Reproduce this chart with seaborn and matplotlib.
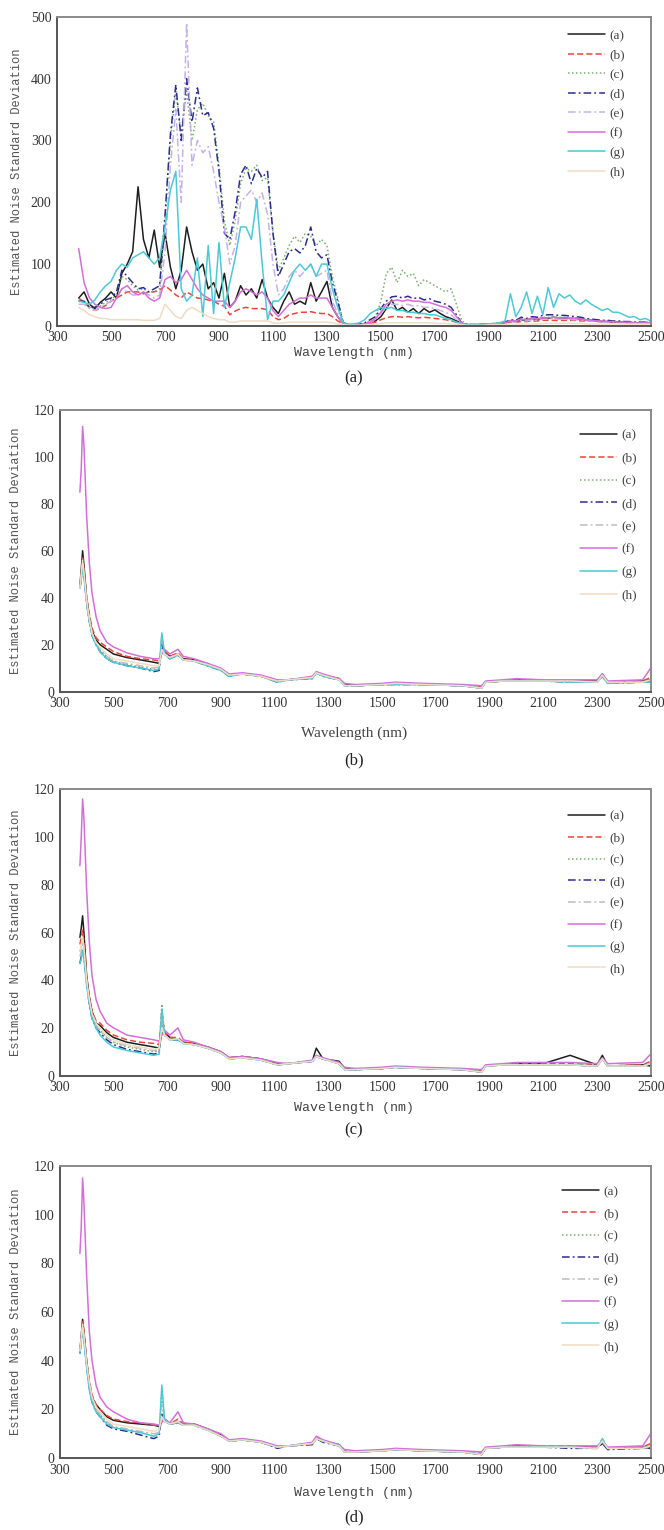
import numpy as np
import pandas as pd
import matplotlib
matplotlib.use("Agg")
import matplotlib.pyplot as plt
import seaborn as sns

# ---------------- DATA ----------------
LABELS = ["(a)", "(b)", "(c)", "(d)", "(e)", "(f)", "(g)", "(h)"]
X_TICKS = [300, 500, 700, 900, 1100, 1300, 1500, 1700, 1900, 2100, 2300, 2500]

# Panel (a): wavelength grid 380..2500 every 20 nm
WL_A = list(range(380, 2501, 20))
A_a = [45, 55, 35, 28, 38, 45, 55, 45, 85, 100,
       120, 225, 140, 110, 155, 95, 150, 95, 60, 90,
       160, 120, 90, 100, 60, 70, 45, 85, 30, 40,
       65, 50, 60, 45, 75, 45, 30, 20, 40, 55,
       35, 40, 35, 70, 40, 55, 72, 30, 15, 4,
       2, 2, 2, 3, 5, 8, 15, 28, 42, 25,
       30, 22, 28, 20, 28, 22, 26, 20, 15, 12,
       8, 4, 2, 2, 2, 3, 3, 3, 4, 5,
       8, 7, 10, 9, 12, 10, 13, 12, 14, 12,
       13, 12, 12, 11, 10, 9, 8, 7, 7, 6,
       6, 6, 5, 5, 5, 5, 5]
A_b = [45, 38, 30, 25, 28, 33, 40, 45, 50, 55,
       55, 55, 52, 55, 55, 58, 65, 58, 50, 45,
       55, 50, 45, 44, 42, 40, 35, 32, 18, 24,
       28, 30, 28, 28, 28, 26, 15, 10, 12, 18,
       20, 22, 22, 23, 21, 20, 20, 15, 8, 3,
       2, 2, 2, 3, 4, 6, 10, 13, 15, 15,
       14, 15, 14, 13, 14, 13, 12, 11, 10, 8,
       6, 3, 2, 2, 2, 2, 3, 3, 4, 5,
       6, 6, 7, 7, 8, 8, 9, 9, 9, 9,
       9, 9, 9, 8, 8, 8, 7, 7, 6, 6,
       6, 6, 5, 5, 5, 5, 5]
A_c = [40, 38, 30, 28, 32, 38, 42, 50, 80, 75,
       65, 58, 60, 55, 55, 60, 170, 300, 380, 310,
       380, 300, 350, 360, 340, 330, 260, 170, 130, 170,
       230, 255, 250, 260, 235, 240, 150, 90, 110, 130,
       145, 135, 150, 145, 130, 140, 130, 80, 45, 6,
       2, 2, 3, 4, 8, 15, 40, 85, 95, 70,
       90, 80, 85, 65, 75, 70, 65, 60, 55, 60,
       35, 8, 3, 2, 2, 3, 3, 3, 4, 5,
       9, 8, 12, 11, 13, 12, 14, 14, 15, 14,
       14, 13, 13, 12, 11, 10, 9, 8, 8, 7,
       7, 7, 6, 6, 6, 6, 6]
A_d = [40, 40, 30, 30, 35, 42, 45, 55, 90, 80,
       70, 60, 62, 55, 60, 65, 180, 310, 390, 300,
       400, 330, 385, 340, 345, 320, 250, 150, 140, 185,
       245, 260, 230, 255, 240, 250, 150, 80, 100, 120,
       125, 118, 130, 160, 120, 110, 115, 70, 40, 5,
       2, 2, 3, 5, 10, 15, 28, 40, 47, 48,
       45, 48, 44, 46, 42, 44, 40, 38, 35, 30,
       18, 4, 2, 2, 2, 3, 3, 4, 4, 6,
       10, 9, 14, 12, 15, 14, 17, 18, 18, 17,
       17, 16, 15, 14, 12, 11, 10, 9, 9, 8,
       8, 7, 7, 6, 6, 6, 6]
A_e = [35, 35, 28, 25, 30, 35, 40, 45, 60, 55,
       50, 50, 55, 50, 45, 50, 120, 260, 350, 200,
       490, 260, 300, 280, 290, 250, 200, 160, 100, 130,
       200, 210, 220, 200, 215, 180, 100, 50, 60, 80,
       90, 80, 90, 100, 80, 85, 90, 40, 20, 4,
       2, 2, 2, 3, 5, 10, 20, 30, 35, 35,
       33, 35, 32, 33, 30, 30, 28, 25, 22, 18,
       10, 3, 2, 2, 2, 2, 3, 3, 3, 4,
       7, 6, 9, 8, 10, 9, 11, 11, 12, 11,
       11, 10, 10, 9, 8, 8, 7, 6, 6, 5,
       5, 5, 5, 4, 4, 4, 4]
A_f = [125, 70, 45, 35, 30, 28, 30, 45, 60, 65,
       55, 50, 55, 45, 40, 45, 75, 80, 70, 75,
       90, 75, 60, 50, 45, 40, 40, 40, 30, 40,
       55, 60, 55, 50, 55, 45, 25, 15, 25, 35,
       40, 45, 45, 50, 45, 45, 45, 30, 15, 3,
       2, 2, 2, 3, 6, 12, 22, 35, 40, 42,
       40, 42, 40, 40, 38, 38, 35, 32, 30, 25,
       15, 4, 2, 2, 2, 3, 3, 3, 4, 5,
       8, 8, 11, 10, 12, 11, 13, 13, 14, 13,
       13, 12, 12, 11, 10, 9, 8, 8, 7, 7,
       6, 6, 6, 5, 5, 5, 5]
A_g = [40, 38, 35, 42, 55, 65, 72, 90, 100, 95,
       110, 115, 120, 110, 100, 110, 160, 220, 250, 60,
       40, 50, 110, 15, 130, 20, 135, 30, 70, 110,
       160, 160, 140, 205, 100, 10, 40, 40, 50, 70,
       90, 100, 90, 100, 80, 100, 100, 60, 30, 5,
       2, 3, 5, 10, 20, 25, 30, 28, 30, 25,
       25, 22, 22, 20, 20, 18, 18, 15, 12, 10,
       6, 3, 2, 2, 2, 3, 3, 4, 5, 8,
       52, 15, 30, 55, 20, 48, 18, 62, 30, 52,
       45, 50, 40, 35, 42, 35, 30, 25, 28, 22,
       22, 18, 14, 15, 10, 12, 8]
A_h = [30, 25, 18, 15, 12, 12, 10, 10, 10, 10,
       10, 10, 9, 9, 9, 12, 35, 25, 15, 12,
       25, 30, 25, 20, 15, 12, 10, 10, 6, 6,
       8, 8, 8, 8, 8, 8, 5, 4, 5, 6,
       6, 6, 6, 6, 6, 6, 6, 5, 3, 2,
       1, 1, 1, 2, 2, 3, 4, 5, 5, 5,
       5, 5, 5, 5, 5, 5, 4, 4, 4, 3,
       3, 2, 1, 1, 1, 1, 2, 2, 2, 2,
       3, 3, 3, 3, 3, 3, 4, 4, 4, 4,
       4, 4, 4, 4, 3, 3, 3, 3, 3, 3,
       3, 3, 3, 3, 3, 3, 3]

# Panels (b)-(d): shared wavelength grid
WL_B = [375, 380, 385, 390, 400, 410, 420, 435, 450, 475,
        500, 550, 600, 650, 670, 680, 690, 710, 740, 760,
        800, 850, 900, 930, 980, 1050, 1110, 1150, 1240, 1255,
        1280, 1340, 1360, 1400, 1500, 1550, 1650, 1800, 1870, 1885,
        1950, 2000, 2100, 2200, 2300, 2320, 2340, 2470, 2500]

B_a = [45, 52, 60, 54, 40, 32, 26, 22, 20, 18, 16, 14.5, 13.5, 12.5, 12, 17, 17, 15, 16, 14,
       13.5, 11.5, 9.5, 7, 7.5, 6.5, 4.5, 5, 6, 8, 7, 5.5, 3, 2.5, 3, 3.5, 3, 2.5, 1.5, 4,
       4.5, 5, 4.5, 4.5, 4.5, 7.5, 4, 4.5, 5]
B_b = [44, 50, 57, 52, 40, 33, 27, 23, 21, 19, 17, 15, 14, 13.5, 13, 17, 17, 15, 16.5, 14,
       13.5, 12, 9.5, 7, 7.5, 6.5, 4.5, 5, 6, 8, 7, 5.5, 3, 2.5, 3, 3.5, 3, 2.5, 2, 4,
       4.5, 5, 4.5, 4.5, 4.5, 7, 4, 4.5, 6]
B_c = [44, 49, 55, 50, 38, 30, 25, 20, 18, 15, 13, 11.5, 10.5, 9.5, 10, 22, 16, 14, 16, 13.5,
       13, 11.5, 9.5, 7, 7.5, 6.5, 4.5, 5, 6, 8, 7, 5, 2.5, 2.5, 3, 3, 3, 2.5, 1.5, 4,
       4.5, 4.5, 4.5, 4.5, 4, 7, 4, 4, 5]
B_d = [44, 48, 54, 50, 38, 30, 24, 20, 17, 14, 12.5, 11, 10, 8.5, 9, 20, 16, 14, 15.5, 13.5,
       13, 11, 9, 6.5, 7.5, 6.5, 4, 5, 5.5, 8, 6.5, 5, 2.5, 2.5, 3, 3, 3, 2.5, 1.5, 4,
       4.5, 4.5, 4.5, 4, 4, 6.5, 3.5, 4, 4]
B_e = [44, 49, 55, 50, 39, 31, 25, 21, 18, 15, 13, 12, 11, 10, 10.5, 24, 16, 14.5, 16, 13.5,
       13, 11.5, 9.5, 7, 7.5, 6.5, 4.5, 5, 6, 8, 7, 5, 2.5, 2.5, 3, 3, 3, 2.5, 1.5, 4,
       4.5, 4.5, 4.5, 4.5, 4, 7, 4, 4, 5]
B_f = [85, 95, 113, 105, 75, 55, 42, 32, 26, 21, 19, 16.5, 15, 14, 14, 16, 18, 16, 18, 15,
       14, 12, 10, 7.5, 8, 7, 5, 5, 6.5, 8.5, 7.5, 5.5, 3.5, 3, 3.5, 4, 3.5, 3, 2.5, 4.5,
       5, 5.5, 5, 5, 5, 7.5, 4.5, 5, 10]
B_g = [44, 48, 53, 49, 38, 30, 24, 20, 17, 14, 12.5, 11, 10, 9, 9.5, 25, 16, 14, 15.5, 13.5,
       13, 11, 9, 6.5, 7.5, 6.5, 4, 5, 5.5, 8, 6.5, 5, 2.5, 2.5, 3, 3, 3, 2.5, 1.5, 4,
       4.5, 4.5, 4.5, 4, 4, 6.5, 3.5, 4, 4]
B_h = [44, 50, 56, 51, 39, 31, 25, 21, 19, 16, 14, 13, 12, 11, 11, 18, 16, 14.5, 16, 13.5,
       13, 11.5, 9.5, 7, 7.5, 6.5, 4.5, 5, 6, 8, 7, 5, 2.5, 2.5, 3, 3.5, 3, 2.5, 1.5, 4,
       4.5, 4.5, 4.5, 4.5, 4, 7, 4, 4, 5]

C_a = [58, 62, 67, 60, 42, 33, 27, 22, 21, 18, 16, 14, 13, 12, 11.5, 18, 18, 16, 15, 14,
       13.5, 12, 10, 7.5, 8, 7, 5, 5, 6, 11.5, 7, 6, 3, 2.5, 3, 3.5, 3, 2.5, 1.5, 4,
       4.5, 5, 5, 8.5, 4.5, 8.5, 4, 4.5, 4]
C_b = [55, 58, 61, 56, 41, 33, 27, 23, 22, 19, 17, 15, 14, 13.5, 13, 27, 18, 16, 16, 14,
       13.5, 12, 10, 7.5, 8, 7, 5, 5, 6, 8, 7, 5.5, 3, 2.5, 3, 3.5, 3, 2.5, 2, 4,
       4.5, 5, 5, 5, 4.5, 7, 4, 4.5, 6]
C_c = [52, 54, 57, 53, 40, 31, 25, 21, 19, 16, 14, 12, 11, 10, 10.5, 30, 17, 15, 15.5, 13.5,
       13, 11.5, 9.5, 7, 7.5, 6.5, 4.5, 5, 6, 8, 7, 5, 2.5, 2.5, 3, 3.5, 3, 2.5, 1.5, 4,
       4.5, 4.5, 4.5, 4.5, 4, 7, 4, 4, 5]
C_d = [47, 50, 53, 50, 39, 30, 24, 20, 18, 15, 13, 11, 10, 9, 9.5, 22, 17, 15, 15, 13.5,
       13, 11.5, 9.5, 7, 7.5, 6.5, 4.5, 5, 6, 8, 7, 5, 2.5, 2.5, 3, 3.5, 3, 2.5, 1.5, 4,
       4.5, 4.5, 4.5, 4.5, 4, 7, 4, 4, 5]
C_e = [50, 52, 55, 52, 40, 31, 25, 21, 19, 16, 14, 12.5, 11.5, 10.5, 11, 24, 17, 15, 15.5, 13.5,
       13, 11.5, 9.5, 7, 7.5, 6.5, 4.5, 5, 6, 8, 7, 5, 2.5, 2.5, 3, 3.5, 3, 2.5, 1.5, 4,
       4.5, 4.5, 4.5, 4.5, 4, 7, 4, 4, 5]
C_f = [88, 100, 116, 108, 78, 56, 42, 32, 27, 22, 20, 17, 16, 15, 14.5, 17, 19, 17, 20, 15,
       14, 12, 10, 7.5, 8, 7, 5.5, 5, 6.5, 8.5, 7.5, 5.5, 3.5, 3, 3.5, 4, 3.5, 3, 2.5, 4.5,
       5, 5.5, 5.5, 5.5, 5, 7.5, 5, 5.5, 9]
C_g = [47, 49, 52, 49, 38, 30, 24, 20, 17, 14, 12, 10.5, 9.5, 8.5, 9, 28, 17, 15, 15, 13.5,
       13, 11.5, 9.5, 7, 7.5, 6.5, 4.5, 5, 6, 8, 7, 5, 2.5, 2.5, 3, 3.5, 3, 2.5, 1.5, 4,
       4.5, 4.5, 4.5, 4.5, 4, 7, 4, 4, 5]
C_h = [52, 55, 58, 54, 40, 32, 26, 22, 20, 17, 15, 13, 12, 11, 11.5, 20, 17, 15, 15.5, 13.5,
       13, 11.5, 9.5, 7, 7.5, 6.5, 4.5, 5, 6, 8, 7, 5, 2.5, 2.5, 3, 3.5, 3, 2.5, 1.5, 4,
       4.5, 4.5, 4.5, 4.5, 4, 7, 4, 4, 5]

D_a = [44, 50, 57, 52, 40, 31, 25, 22, 20, 17, 15.5, 14.5, 14, 13.5, 13, 15, 16, 14, 15, 14,
       14, 12, 9.5, 7, 7.5, 6.5, 4.5, 5, 6, 8, 7, 5.5, 2.5, 2.5, 3, 3.5, 3, 2.5, 1.5, 4,
       4.5, 5, 4.5, 4.5, 4.5, 6, 4, 4.5, 4]
D_b = [44, 50, 56, 52, 40, 32, 26, 22, 20, 17.5, 16, 15, 14.5, 13.5, 13.5, 15, 16, 14, 16, 14,
       14, 12, 9.5, 7, 8, 6.5, 4.5, 5, 6, 8.5, 7, 5.5, 3, 2.5, 3, 3.5, 3, 2.5, 2, 4,
       4.5, 5, 5, 5, 4.5, 6.5, 4, 4.5, 6]
D_c = [43, 48, 54, 50, 38, 30, 24, 20, 18, 14.5, 12.5, 11.5, 10.5, 9, 10, 27, 15, 14, 14.5, 13.5,
       13.5, 11.5, 9, 7, 7.5, 6.5, 4.5, 5, 6, 8, 7, 5, 2.5, 2.5, 3, 3.5, 3, 2.5, 1.5, 4,
       4.5, 4.5, 4.5, 4.5, 4, 8, 4, 4, 5]
D_d = [43, 48, 53, 49, 38, 29, 23, 19, 17, 13.5, 12, 11, 9.5, 8, 9, 18, 15, 14, 14.5, 13.5,
       13.5, 11.5, 9, 7, 7.5, 6.5, 4, 5, 5.5, 8, 6.5, 5, 2.5, 2.5, 3, 3.5, 3, 2.5, 1.5, 4,
       4.5, 4.5, 4.5, 4, 4, 6, 3.5, 4, 4]
D_e = [44, 49, 54, 50, 39, 30, 24, 20, 18, 15, 13, 12, 11, 10, 10.5, 22, 15, 14, 15, 13.5,
       13.5, 11.5, 9, 7, 7.5, 6.5, 4.5, 5, 6, 8, 7, 5, 2.5, 2.5, 3, 3.5, 3, 2.5, 1.5, 4,
       4.5, 4.5, 4.5, 4.5, 4, 7, 4, 4, 5]
D_f = [84, 95, 115, 105, 75, 52, 40, 30, 25, 21, 19, 16, 14.5, 14, 13.5, 15, 16, 14.5, 19, 14.5,
       14, 12, 10, 7.5, 8, 7, 5, 5, 6.5, 9, 7.5, 5.5, 3.5, 3, 3.5, 4, 3.5, 3, 2.5, 4.5,
       5, 5.5, 5, 5, 5, 6.5, 4.5, 5, 10]
D_g = [43, 48, 53, 48, 37, 28, 23, 19, 17, 14, 12.5, 11.5, 10.5, 9, 10, 30, 16, 14, 14.5, 13.5,
       13.5, 11.5, 9, 7, 7.5, 6.5, 4.5, 5, 6, 8, 7, 5, 2.5, 2.5, 3, 3.5, 3, 2.5, 1.5, 4,
       4.5, 4.5, 4.5, 4.5, 4, 8, 4, 4, 5]
D_h = [44, 49, 55, 50, 39, 31, 25, 21, 19, 16, 14, 13, 12, 11, 11.5, 17, 15, 14, 15, 13.5,
       13.5, 11.5, 9, 7, 7.5, 6.5, 4.5, 5, 6, 8, 7, 5, 2.5, 2.5, 3, 3.5, 3, 2.5, 1.5, 4,
       4.5, 4.5, 4.5, 4.5, 4, 7, 4, 4, 5]

# ---------------- STYLE ----------------
sns.set_style("white")
plt.rcParams["font.family"] = ["Liberation Serif", "DejaVu Serif"]

COLORS = ["#1e1e1e", "#e8453c", "#74b06a", "#2c2c90", "#c4b2e8",
          "#d46ed8", "#4cc9d6", "#f0dcc4"]
COLORS_BCD = ["#1e1e1e", "#e8453c", "#74b06a", "#2c2c90", "#bdbdbd",
              "#d46ed8", "#4cc9d6", "#f0dcc4"]
STYLES = ["-", (0, (4, 2)), (0, (1, 1.6)), (0, (5, 2, 1.2, 2)), (0, (5, 2, 1.2, 2)),
          "-", "-", "-"]
MONO = ["Liberation Mono", "DejaVu Sans Mono"]

fig = plt.figure(figsize=(6.64, 15.30), dpi=100)

panels = [
    dict(rect=[0.086, 0.787, 0.894, 0.202], wl=WL_A,
         ys=[A_a, A_b, A_c, A_d, A_e, A_f, A_g, A_h], ymax=500, ystep=100,
         colors=COLORS, xl_y=0.769, cap_y=0.753, cap="(a)", xl_font=MONO, xl_size=9.5,
         leg_anchor=(0.965, 0.975), leg_space=0.55, ylab_x=-0.057),
    dict(rect=[0.090, 0.548, 0.890, 0.184], wl=WL_B,
         ys=[B_a, B_b, B_c, B_d, B_e, B_f, B_g, B_h], ymax=120, ystep=20,
         colors=COLORS_BCD, xl_y=0.521, cap_y=0.503, cap="(b)", xl_font=["Liberation Serif"], xl_size=11,
         leg_anchor=(0.985, 0.95), leg_space=0.8, ylab_x=-0.064),
    dict(rect=[0.090, 0.297, 0.890, 0.187], wl=WL_B,
         ys=[C_a, C_b, C_c, C_d, C_e, C_f, C_g, C_h], ymax=120, ystep=20,
         colors=COLORS_BCD, xl_y=0.276, cap_y=0.261, cap="(c)", xl_font=MONO, xl_size=9.5,
         leg_anchor=(0.965, 0.945), leg_space=0.72, ylab_x=-0.064),
    dict(rect=[0.090, 0.047, 0.890, 0.191], wl=WL_B,
         ys=[D_a, D_b, D_c, D_d, D_e, D_f, D_g, D_h], ymax=120, ystep=20,
         colors=COLORS_BCD, xl_y=0.0242, cap_y=0.0085, cap="(d)", xl_font=MONO, xl_size=9.5,
         leg_anchor=(0.955, 0.95), leg_space=0.75, ylab_x=-0.064),
]

for p in panels:
    ax = fig.add_axes(p["rect"])
    for lab, vals, col, ls in zip(LABELS, p["ys"], p["colors"], STYLES):
        df = pd.DataFrame({"wl": p["wl"], "v": vals})
        sns.lineplot(data=df, x="wl", y="v", ax=ax, color=col, linestyle=ls,
                     linewidth=1.1, label=lab, estimator=None)
    ax.set_xlim(300, 2500)
    ax.set_ylim(0, p["ymax"])
    ax.set_xticks(X_TICKS)
    ax.set_yticks(list(range(0, p["ymax"] + 1, p["ystep"])))
    ax.tick_params(direction="in", length=3, width=0.8, labelsize=10, colors="#333333")
    ax.tick_params(axis="x", pad=4)
    ax.tick_params(axis="y", pad=4)
    ax.set_xlabel("")
    ax.set_ylabel("Estimated Noise Standard Deviation", family=MONO, fontsize=8.7,
                  color="#555555")
    ax.yaxis.set_label_coords(p["ylab_x"], 0.5)
    for side, sp in ax.spines.items():
        sp.set_visible(True)
        sp.set_linewidth(1.4)
        sp.set_color("#555555" if side in ("left", "bottom") else "#8a8a8a")
    leg = ax.legend(loc="upper right", bbox_to_anchor=p["leg_anchor"], frameon=False,
                    fontsize=9.5, handlelength=2.8, handletextpad=0.3,
                    labelspacing=p["leg_space"], borderaxespad=0)
    for t in leg.get_texts():
        t.set_color("#444444")
    fig.text(0.533, p["xl_y"], "Wavelength (nm)", ha="center", va="center",
             family=p["xl_font"], fontsize=p["xl_size"], color="#444444")
    fig.text(0.533, p["cap_y"], p["cap"], ha="center", va="center",
             fontsize=12, color="#222222")

fig.savefig("out.png", dpi=100)
